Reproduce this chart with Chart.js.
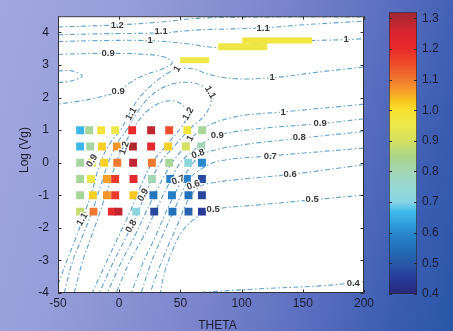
<!DOCTYPE html>
<html><head><meta charset="utf-8">
<script src="https://cdn.jsdelivr.net/npm/chart.js@4"></script>
<style>
html,body{margin:0;padding:0;}
body{width:453px;height:331px;overflow:hidden;position:relative;
background:linear-gradient(105deg,#a3a7df 0%,#969dd8 25%,#7d87cd 50%,#5b6fc0 72%,#3b5db1 88%,#2857a8 100%);}
#main{position:absolute;left:0;top:0;width:453px;height:331px;}
#cbar{position:absolute;left:370px;top:0;width:83px;height:331px;}
</style></head><body>
<canvas id="main" width="453" height="331"></canvas>
<canvas id="cbar" width="83" height="331"></canvas>
<script>
// ---------- axis ticks ----------
const xTicks = [-50, 0, 50, 100, 150, 200];
const yTicks = [-4, -3, -2, -1, 0, 1, 2, 3, 4];
const cbTicks = [0.4, 0.5, 0.6, 0.7, 0.8, 0.9, 1.0, 1.1, 1.2, 1.3];
const xTitle = 'THETA';
const yTitle = 'Log (Vg)';

// ---------- scatter markers (square cells) ----------
const rowLogVg = [1, 0.5, 0, -0.5, -1, -1.5];
const thetaRow1 = [-31.9, -24.5, -14.7, -3.3, 10.6, 26.1, 40.8, 55.6, 67.8];
const valueRow1 = [0.66, 0.83, 0.98, 0.95, 1.20, 1.28, 1.15, 0.97, 0.83];
const thetaRow2 = [-31.9, -23.7, -14.1, -1.9, 11.2, 26.1, 40.0, 54.5, 67.0];
const valueRow2 = [0.66, 0.82, 1.02, 1.07, 1.30, 1.22, 1.02, 0.90, 0.80];
const thetaRow3 = [-31.9, -22.3, -12.3, -1.6, 11.4, 26.7, 40.8, 56.4, 67.6];
const valueRow3 = [0.82, 0.92, 1.02, 1.10, 1.28, 1.10, 0.83, 0.72, 0.60];
const thetaRow4 = [-31.9, -23.1, -10.0, -3.3, 11.7, 26.7, 41.7, 55.3, 67.6];
const valueRow4 = [0.83, 0.95, 1.06, 1.18, 1.22, 0.80, 0.58, 0.58, 0.48];
const thetaRow5 = [-31.9, -21.5, -10.0, -3.3, 11.7, 28.0, 43.1, 56.6, 67.6];
const valueRow5 = [0.83, 1.02, 1.07, 1.18, 1.03, 0.56, 0.58, 0.55, 0.47];
const thetaRow6 = [-31.9, -21.0, -6.0, -0.6, 13.9, 28.6, 43.5, 56.6, 67.6];
const valueRow6 = [0.88, 1.10, 1.20, 1.28, 0.72, 0.47, 0.55, 0.52, 0.45];

// ---------- wide cells near the top ----------
const barThetaStart = [49.8, 80.9, 100.5];
const barThetaEnd = [73.5, 120.9, 157.7];
const barLogVg = [3.15, 3.56, 3.75];
const barValue = [0.95, 0.96, 0.97];

// ---------- contour lines [theta, logVg] ----------
const contourTop12 = [[-50,4.17],[-23.7,4.2],[-1.6,4.23],[33.5,4.32],[66.2,4.44],[115.2,4.47],[200,4.48]];
const contourTop11 = [[-50,3.93],[-15.5,3.96],[34.3,3.99],[66.2,4.08],[117.6,4.14],[147.9,4.23],[200,4.35]];
const contourTop10 = [[-50,3.72],[-15.5,3.75],[25.3,3.75],[53.9,3.66],[78.4,3.54],[98.9,3.6],[131.5,3.72],[185.5,3.78],[200,3.81]];
const contourLeft09 = [[-50,3.33],[-9,3.36],[21.2,3.33],[37.6,3.24],[43.3,3.06],[35.1,2.88],[21.2,2.7],[9,2.46],[-0.8,2.19],[-23.7,1.95],[-50,1.8]];
const contourLeft08 = [[-50,2.82],[-38.4,2.82],[-30.2,2.67],[-38.4,2.52],[-50,2.46]];
const contourMid10 = [[-50,-3.75],[-43.3,-3.06],[-35.1,-2.28],[-27.8,-1.5],[-21.2,-0.75],[-15.5,0],[-7.4,0.6],[0.8,0.99],[7.4,1.44],[15.5,1.95],[27.0,2.4],[37.6,2.7],[47.4,2.88],[60.5,2.88],[74.3,2.7],[94.8,2.58],[125.0,2.61],[164.2,2.79],[200,2.94]];
const contourRidge11 = [[-44.9,-4],[-38.4,-3.06],[-30.2,-2.28],[-22.1,-1.5],[-15.5,-0.75],[-9.0,0],[-1.6,0.6],[5.7,0.99],[13.9,1.5],[25.3,2.04],[41.7,2.4],[59.6,2.46],[71.9,2.25],[75.2,1.89],[69.4,1.44],[58.0,1.05],[45.8,0.54],[33.5,0],[23.7,-0.75],[15.5,-1.5],[5.7,-2.28],[-4.9,-3.06],[-16.3,-4]];
const contourRidge12 = [[-36.8,-4],[-30.2,-3.06],[-22.9,-2.28],[-15.5,-1.5],[-9.0,-0.75],[-2.5,0],[4.1,0.54],[11.4,1.05],[22.1,1.56],[35.1,1.86],[48.2,1.86],[56.4,1.5],[51.5,1.14],[40.0,0.6],[27.0,0],[17.2,-0.75],[9.0,-1.5],[-0.8,-2.28],[-10.6,-3.06],[-22.1,-4]];
const contourRight10 = [[200,1.8],[134.0,1.56],[98.9,1.44],[76.0,1.2],[62.9,0.9],[54.7,0.54],[43.3,0],[31.9,-0.75],[22.1,-1.5],[12.3,-2.28],[1.6,-3.06],[-9.8,-4]];
const contourRight09 = [[200,1.35],[164.2,1.2],[115.2,1.05],[80.1,0.84],[66.2,0.54],[56.4,0.24],[49.8,0],[39.2,-0.75],[29.4,-1.5],[19.6,-2.28],[8.2,-3.06],[-2.5,-4]];
const contourRight08 = [[200,0.96],[147.1,0.75],[98.9,0.54],[70.3,0.3],[60.5,0],[48.2,-0.75],[38.4,-1.5],[29.4,-2.28],[19.6,-3.06],[9.8,-4]];
const contourRight07 = [[200,0.45],[123.4,0.21],[82.5,0.06],[66.2,-0.21],[56.4,-0.54],[49.8,-1.05],[42.5,-1.65],[33.5,-2.4],[25.3,-3.15],[18.0,-4]];
const contourRight06 = [[200,-0.06],[139.7,-0.36],[98.9,-0.51],[70.3,-0.66],[62.1,-0.84],[54.7,-1.26],[48.2,-1.86],[40.0,-2.55],[31.9,-3.3],[25.3,-4]];
const contourRight05 = [[200,-0.99],[157.7,-1.14],[115.2,-1.29],[76.8,-1.44],[62.1,-1.71],[51.5,-2.1],[44.1,-2.64],[37.6,-3.3],[33.5,-4]];
const contourRight04 = [[58.0,-4],[115.2,-3.87],[164.2,-3.78],[200,-3.66]];

// ---------- contour labels ----------
const labelText  = ['1.2','1.1','1.1','1','1','0.9','1','1','0.9','1.1','1.1','1.2','1','0.9','0.9','1','0.8','0.8','0.7','0.6','0.5','0.5','0.7','0.6','0.9','0.8','1.1','0.9','1.2','0.4'];
const labelTheta = [-1.6,34.3,117.6,25.3,185.5,-9.0,47.4,125.0,-0.8,74.3,9.8,56.4,134.0,164.2,80.1,58.0,147.1,64.5,123.4,139.7,157.7,76.8,48.2,60.5,19.6,9.8,-30.2,-22.1,4.1,191.2];
const labelLogVg = [4.23,4.02,4.14,3.75,3.78,3.36,2.88,2.61,2.19,2.16,1.5,1.5,1.56,1.2,0.84,0.75,0.78,0.27,0.21,-0.36,-1.14,-1.44,-0.54,-0.69,-0.99,-1.95,-1.74,0.06,0.45,-3.69];
const labelAngle = [0,0,0,0,0,0,-60,0,0,60,-60,-60,0,0,0,-60,0,-20,0,0,0,0,-20,-20,-60,-60,-60,-60,-70,0];

// ---------- colour map (matches colour bar) ----------
const cmapStops = [[0.40,'#2a2878'],[0.45,'#283a98'],[0.50,'#2858a8'],[0.55,'#2270b8'],[0.60,'#2888cc'],[0.63,'#30a0dc'],[0.67,'#40bcea'],[0.70,'#88d4e4'],[0.75,'#98d8d4'],[0.80,'#a2d6b4'],[0.85,'#acd488'],[0.90,'#d4e060'],[0.95,'#ece84a'],[1.00,'#f8e030'],[1.03,'#f8c820'],[1.06,'#f8a028'],[1.10,'#f07830'],[1.15,'#ee4c2a'],[1.20,'#e82a2c'],[1.25,'#dc2430'],[1.30,'#b02830'],[1.32,'#a02830']];
function hex(c){return [1,3,5].map(i=>parseInt(c.substr(i,2),16));}
function cmap(v){
  const s=cmapStops;
  if(v<=s[0][0]) return s[0][1];
  for(let i=1;i<s.length;i++){
    if(v<=s[i][0]){
      const t=(v-s[i-1][0])/(s[i][0]-s[i-1][0]);
      const a=hex(s[i-1][1]), b=hex(s[i][1]);
      return 'rgb('+a.map((x,k)=>Math.round(x+(b[k]-x)*t)).join(',')+')';
    }
  }
  return s[s.length-1][1];
}

const FONT = '"Liberation Sans", Arial, sans-serif';
const TXT = '#1c1c30';

// ---------- build datasets ----------
const rowsTheta=[thetaRow1,thetaRow2,thetaRow3,thetaRow4,thetaRow5,thetaRow6];
const rowsValue=[valueRow1,valueRow2,valueRow3,valueRow4,valueRow5,valueRow6];
const markerData=[], markerColors=[];
rowsTheta.forEach((row,i)=>row.forEach((t,j)=>{markerData.push({x:t,y:rowLogVg[i]});markerColors.push(cmap(rowsValue[i][j]));}));

const datasets=[];
datasets.push({type:'scatter',data:markerData,pointStyle:'rect',pointRadius:5.6,pointHoverRadius:5.6,
  pointBackgroundColor:markerColors,pointBorderWidth:0,order:0});
const barThick=[6,7,6];
barThetaStart.forEach((s,i)=>datasets.push({type:'line',data:[{x:s,y:barLogVg[i]},{x:barThetaEnd[i],y:barLogVg[i]}],
  borderColor:cmap(barValue[i]),borderWidth:barThick[i],borderCapStyle:'butt',pointRadius:0,order:1}));
const contours=[contourTop12,contourTop11,contourTop10,contourLeft09,contourLeft08,contourMid10,contourRidge11,contourRidge12,
  contourRight10,contourRight09,contourRight08,contourRight07,contourRight06,contourRight05,contourRight04];
contours.forEach(c=>datasets.push({type:'line',data:c.map(p=>({x:p[0],y:p[1]})),borderColor:'#62a2cc',borderWidth:1.1,
  borderDash:[5,2.5,1.5,2.5],pointRadius:0,tension:0.35,fill:false,order:2}));

// ---------- plugins ----------
const mainDeco={id:'mainDeco',
  beforeDraw(ch){const {ctx,chartArea:a}=ch;ctx.save();ctx.fillStyle='#ffffff';ctx.fillRect(a.left,a.top,a.right-a.left,a.bottom-a.top);ctx.restore();},
  afterDatasetsDraw(ch){
    const {ctx}=ch, xs=ch.scales.x, ys=ch.scales.y;
    ctx.save();ctx.font='bold 9.5px '+FONT;ctx.textAlign='center';ctx.textBaseline='middle';
    labelText.forEach((t,i)=>{
      ctx.save();ctx.translate(xs.getPixelForValue(labelTheta[i]),ys.getPixelForValue(labelLogVg[i]));
      ctx.rotate(labelAngle[i]*Math.PI/180);
      ctx.lineWidth=2.5;ctx.strokeStyle='rgba(255,255,255,0.9)';ctx.strokeText(t,0,0);
      ctx.fillStyle='#3a3a3a';ctx.fillText(t,0,0);ctx.restore();
    });
    ctx.restore();
  },
  afterDraw(ch){
    const {ctx,chartArea:a}=ch, xs=ch.scales.x, ys=ch.scales.y;
    ctx.save();
    ctx.strokeStyle='#303038';ctx.lineWidth=1;
    ctx.strokeRect(a.left+0.5,a.top+0.5,a.right-a.left-1,a.bottom-a.top-1);
    ctx.beginPath();
    yTicks.forEach(v=>{const y=Math.round(ys.getPixelForValue(v))+0.5;ctx.moveTo(a.left,y);ctx.lineTo(a.left+3.5,y);ctx.moveTo(a.right,y);ctx.lineTo(a.right-3.5,y);});
    xTicks.forEach(v=>{const x=Math.round(xs.getPixelForValue(v))+0.5;ctx.moveTo(x,a.bottom);ctx.lineTo(x,a.bottom-3.5);ctx.moveTo(x,a.top);ctx.lineTo(x,a.top+3.5);});
    ctx.stroke();
    ctx.fillStyle=TXT;ctx.font='12px '+FONT;ctx.textAlign='center';ctx.textBaseline='middle';
    ctx.fillText(xTitle,217.5,325.5);
    ctx.translate(25,150);ctx.rotate(-Math.PI/2);ctx.fillText(yTitle,0,0);
    ctx.restore();
  }};

new Chart(document.getElementById('main'),{
  type:'scatter',
  data:{datasets},
  options:{responsive:false,animation:false,devicePixelRatio:1,
    layout:{padding:{left:0,top:10,right:89,bottom:0}},
    plugins:{legend:{display:false},tooltip:{enabled:false}},
    scales:{
      x:{type:'linear',min:-50,max:200,
        afterBuildTicks:s=>{s.ticks=xTicks.map(v=>({value:v}));},
        afterFit:s=>{s.height=38;},
        ticks:{font:{family:FONT,size:12},color:TXT,padding:3,maxRotation:0,autoSkip:false},
        grid:{display:false,drawTicks:false},border:{display:false}},
      y:{type:'linear',min:-4,max:4.5,
        afterBuildTicks:s=>{s.ticks=yTicks.map(v=>({value:v}));},
        afterFit:s=>{s.width=58;},
        ticks:{font:{family:FONT,size:12},color:TXT,padding:9,autoSkip:false},
        grid:{display:false,drawTicks:false},border:{display:false}}
    }},
  plugins:[mainDeco]
});

// ---------- colour bar ----------
const cbDeco={id:'cbDeco',afterDraw(ch){
  const {ctx,chartArea:a}=ch, ys=ch.scales.y;
  ctx.save();ctx.strokeStyle='#2a2a3a';ctx.lineWidth=1;ctx.beginPath();
  cbTicks.forEach(v=>{const y=Math.round(ys.getPixelForValue(v))+0.5;ctx.moveTo(a.left,y);ctx.lineTo(a.left+3,y);ctx.moveTo(a.right,y);ctx.lineTo(a.right-3,y);});
  ctx.stroke();ctx.restore();
}};
new Chart(document.getElementById('cbar'),{
  type:'bar',
  data:{labels:[''],datasets:[{data:[[0.4,1.32]],
    backgroundColor:(c)=>{const ch=c.chart;if(!ch.chartArea)return '#888';const ys=ch.scales.y;
      const g=ch.ctx.createLinearGradient(0,ys.getPixelForValue(0.4),0,ys.getPixelForValue(1.32));
      cmapStops.forEach(([v,col])=>g.addColorStop(Math.min(1,(v-0.4)/0.92),col));return g;},
    borderColor:'#2a2a3a',borderWidth:1,borderSkipped:false,barPercentage:1,categoryPercentage:1}]},
  options:{responsive:false,animation:false,devicePixelRatio:1,
    layout:{padding:{left:19,top:10,bottom:37,right:0}},
    plugins:{legend:{display:false},tooltip:{enabled:false}},
    scales:{
      x:{display:false},
      y:{position:'right',min:0.4,max:1.32,
        afterBuildTicks:s=>{s.ticks=cbTicks.map(v=>({value:v}));},
        afterFit:s=>{s.width=36;},
        ticks:{callback:v=>Number(v).toFixed(1),font:{family:FONT,size:12},color:TXT,padding:5,autoSkip:false},
        grid:{display:false,drawTicks:false},border:{display:false}}
    }},
  plugins:[cbDeco]
});
</script>
</body></html>
